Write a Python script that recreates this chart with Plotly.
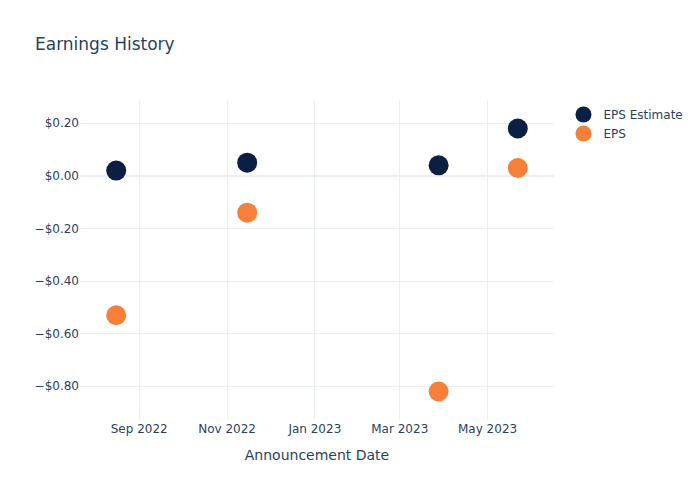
import plotly.graph_objects as go

dates = ["2022-08-16", "2022-11-15", "2023-03-28", "2023-05-22"]
eps_estimate = [0.02, 0.05, 0.04, 0.18]
eps_actual = [-0.53, -0.14, -0.82, 0.03]

fig = go.Figure()
fig.add_trace(go.Scatter(x=dates, y=eps_estimate, mode="markers", name="EPS Estimate",
                         marker=dict(size=20, color="#0b1f42")))
fig.add_trace(go.Scatter(x=dates, y=eps_actual, mode="markers", name="EPS",
                         marker=dict(size=20, color="#f6803a")))
fig.update_layout(
    template="plotly_white",
    width=700, height=500,
    font=dict(family="DejaVu Sans"),
    title=dict(text="Earnings History"),
    xaxis=dict(title=dict(text="Announcement Date")),
    yaxis=dict(tickformat="$.2f"),
)
fig.write_html("out.html")
